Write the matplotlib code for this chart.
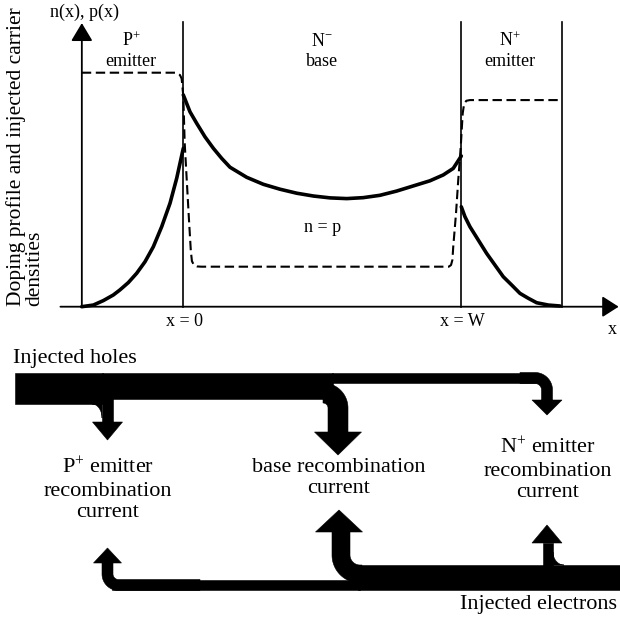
import numpy as np
import matplotlib
matplotlib.use("Agg")
import matplotlib.pyplot as plt
from matplotlib.patches import Polygon

plt.rcParams['font.family'] = ['Liberation Serif', 'DejaVu Serif']
plt.rcParams['mathtext.fontset'] = 'custom'
plt.rcParams['mathtext.rm'] = 'Liberation Serif'
plt.rcParams['mathtext.it'] = 'Liberation Serif:italic'

# ---------------- data (position in units of base width W, density relative to P+ doping) ----
p_emitter_x = [-0.3655, -0.3237, -0.2878, -0.2518, -0.2277, -0.1978, -0.1676, -0.1378,
               -0.1079, -0.0777, -0.0478, -0.0237, 0.0]
p_emitter_y = [0.0, 0.007, 0.026, 0.050, 0.072, 0.103, 0.143, 0.192, 0.256, 0.342, 0.442,
               0.549, 0.677]

base_x = [0.0, 0.024, 0.048, 0.078, 0.108, 0.138, 0.168, 0.228, 0.288, 0.348, 0.408, 0.468,
          0.528, 0.588, 0.647, 0.707, 0.767, 0.827, 0.887, 0.935, 0.971, 1.0]
base_y = [0.905, 0.833, 0.784, 0.726, 0.677, 0.634, 0.596, 0.553, 0.523, 0.502, 0.485, 0.473,
          0.465, 0.462, 0.466, 0.476, 0.494, 0.516, 0.538, 0.563, 0.591, 0.644]

n_emitter_x = [1.0, 1.013, 1.031, 1.061, 1.091, 1.121, 1.151, 1.181, 1.211, 1.241, 1.271,
               1.313, 1.355]
n_emitter_y = [0.427, 0.385, 0.342, 0.285, 0.228, 0.178, 0.128, 0.093, 0.057, 0.036, 0.017,
               0.007, 0.003]

doping_x = [-0.365, -0.030, -0.020, -0.012, -0.006, 0.0, 0.005, 0.012, 0.020, 0.027, 0.031,
            0.038, 0.050, 0.065, 0.955, 0.963, 0.968, 0.971, 0.981, 0.989, 0.998, 1.005,
            1.010, 1.018, 1.031, 1.363]
doping_y = [1.0, 1.0, 0.997, 0.99, 0.975, 0.90, 0.70, 0.55, 0.38, 0.24, 0.195, 0.178, 0.172,
            0.171, 0.171, 0.178, 0.20, 0.256, 0.399, 0.541, 0.684, 0.826, 0.866, 0.880,
            0.883, 0.883]

boundaries = [0.0, 1.0, 1.363]
boundary_labels = ['x = 0', 'x = W']

region_labels = ['P$^{+}$', 'N$^{-}$', 'N$^{+}$']
region_names = ['emitter', 'base', 'emitter']

flow_labels = ['P$^{+}$ emitter\nrecombination\ncurrent',
               'base recombination\ncurrent',
               'N$^{+}$ emitter\nrecombination\ncurrent']

# --------------------------------------------------------------------------------------------
W_PX, H_PX = 620, 624
fig = plt.figure(figsize=(6.2, 6.24), dpi=100)
fig.patch.set_facecolor('white')

# top plot axes (covers top 330 px of the figure)
top_h = 330
ax = fig.add_axes([0, 1 - top_h / H_PX, 1, top_h / H_PX])
x0px, xscale = 183.3, 278.0
y0px, yscale = 306.7, 234.0
ax.set_xlim(-x0px / xscale, (W_PX - x0px) / xscale)
ax.set_ylim(-(top_h - y0px) / yscale, y0px / yscale)
ax.axis('off')

for xs, ys in [(p_emitter_x, p_emitter_y), (base_x, base_y), (n_emitter_x, n_emitter_y)]:
    ax.plot(xs, ys, color='k', lw=2.6, solid_capstyle='round', solid_joinstyle='round')
ax.plot(doping_x, doping_y, color='k', lw=1.5, dashes=(4.5, 2.2))

for b in boundaries:
    ax.plot([b, b], [0, 1.217], color='k', lw=1.2)

axis_x = doping_x[0]
ax.annotate('', xy=(axis_x, 1.212), xytext=(axis_x, 0),
            arrowprops=dict(arrowstyle='-|>,head_length=0.55,head_width=0.33',
                            mutation_scale=20, lw=1.3, color='k', shrinkA=0, shrinkB=0))
ax.annotate('', xy=(1.566, 0), xytext=(-0.442, 0),
            arrowprops=dict(arrowstyle='-|>,head_length=0.5,head_width=0.32',
                            mutation_scale=20, lw=1.3, color='k', shrinkA=0, shrinkB=0))

# ---------------- overlay axes in pixel units for labels and the flow diagram ---------------
ov = fig.add_axes([0, 0, 1, 1])
ov.set_xlim(0, W_PX)
ov.set_ylim(H_PX, 0)
ov.axis('off')
ov.patch.set_alpha(0)

fs_top = 13
fs_bot = 16

ov.text(85, 12, 'n(x), p(x)', fontsize=fs_top, ha='center', va='center')
for cx, lab, name in zip([131, 322, 510], region_labels, region_names):
    ov.text(cx, 41, lab, fontsize=fs_top, ha='center', va='center')
    ov.text(cx, 61, name, fontsize=fs_top, ha='center', va='center')
ov.text(323, 227, 'n = p', fontsize=fs_top, ha='center', va='center')
ov.text(184, 322, boundary_labels[0], fontsize=fs_top, ha='center', va='center')
ov.text(462, 321, boundary_labels[1], fontsize=fs_top, ha='center', va='center')
ov.text(612, 329, 'x', fontsize=fs_top, ha='center', va='center')
ov.text(25, 157, 'Doping profile and injected carrier\ndensities', fontsize=15.5,
        rotation=90, ha='center', va='center', multialignment='left', linespacing=0.92)


def poly(pts):
    ov.add_patch(Polygon(pts, closed=True, fc='k', ec='k', lw=0.4))


def head(hx, y_base, hw, hl, dy):
    poly([(hx - hw, y_base), (hx + hw, y_base), (hx, y_base + dy * hl)])


def bend(x_start, y_c, xc, y_end, t, R, hw, hl, hx=None, dx=1, n=40):
    """band of thickness t turning from horizontal into a vertical stem (convex outer edge)"""
    dy = np.sign(y_end - y_c)
    cx, cy = xc - dx * R, y_c + dy * R
    th = np.linspace(0, np.pi / 2, n)
    v0 = np.array([0, -dy])
    v1 = np.array([dx, 0])
    dirs = np.outer(np.cos(th), v0) + np.outer(np.sin(th), v1)
    outer = np.array([cx, cy]) + (R + t / 2) * dirs
    inner = np.array([cx, cy]) + (R - t / 2) * dirs
    pts = [(x_start, y_c - dy * t / 2)] + list(map(tuple, outer)) + \
          [(xc + dx * t / 2, y_end), (xc - dx * t / 2, y_end)] + \
          list(map(tuple, inner[::-1])) + [(x_start, y_c + dy * t / 2)]
    poly(pts)
    head(xc if hx is None else hx, y_end, hw, hl, dy)


def fillet(x_c, y_c, rx, ry, sx, sy, n=30):
    """concave fillet at corner (x_c, y_c), extending sx*rx along the band, sy*ry along stem"""
    cx, cy = x_c + sx * rx, y_c + sy * ry
    th = np.linspace(0, np.pi / 2, n)
    arc = np.column_stack([cx - sx * rx * np.sin(th), cy - sy * ry * np.cos(th)])
    poly([(x_c, y_c)] + list(map(tuple, arc)))


def band(x1, x2, y1, y2):
    poly([(x1, y1), (x2, y1), (x2, y2), (x1, y2)])


# injected holes (flowing right, branches turn down)
band(15, 103, 373, 404)
band(102, 333, 373, 399)
band(332, 536, 373, 383)
band(102, 113, 398, 422)                     # P+ emitter stem
fillet(102, 404, 10, 14, -1, 1)
head(107.5, 422, 15, 18, 1)
bend(323, 393, 338, 432, 20, 15, 23.5, 23)   # base
bend(520, 378, 547, 400, 11, 12, 15, 15)     # N+ emitter

# injected electrons (flowing left, branches turn up)
band(358, 620, 565, 590)
band(112, 360, 580, 590)
band(543, 553, 543, 566)                     # N+ emitter stem
fillet(553, 565, 11, 13, 1, -1)
head(547, 543, 15, 18, -1)
bend(362, 574, 341, 532, 18, 19, 23.5, 22, hx=339, dx=-1)   # base
bend(200, 585, 107.5, 563, 11, 11, 14, 15, dx=-1)           # P+ emitter

ov.text(13, 359, 'Injected holes', fontsize=fs_bot, ha='left', va='center')
ov.text(617, 605, 'Injected electrons', fontsize=fs_bot, ha='right', va='center')

ov.text(108, 490, flow_labels[0], fontsize=fs_bot, ha='center', va='center',
        linespacing=1.2)
ov.text(339, 478, flow_labels[1], fontsize=fs_bot, ha='center', va='center',
        linespacing=1.2)
ov.text(548, 470, flow_labels[2], fontsize=fs_bot, ha='center', va='center',
        linespacing=1.2)

fig.savefig('out.png', dpi=100, facecolor='white')
